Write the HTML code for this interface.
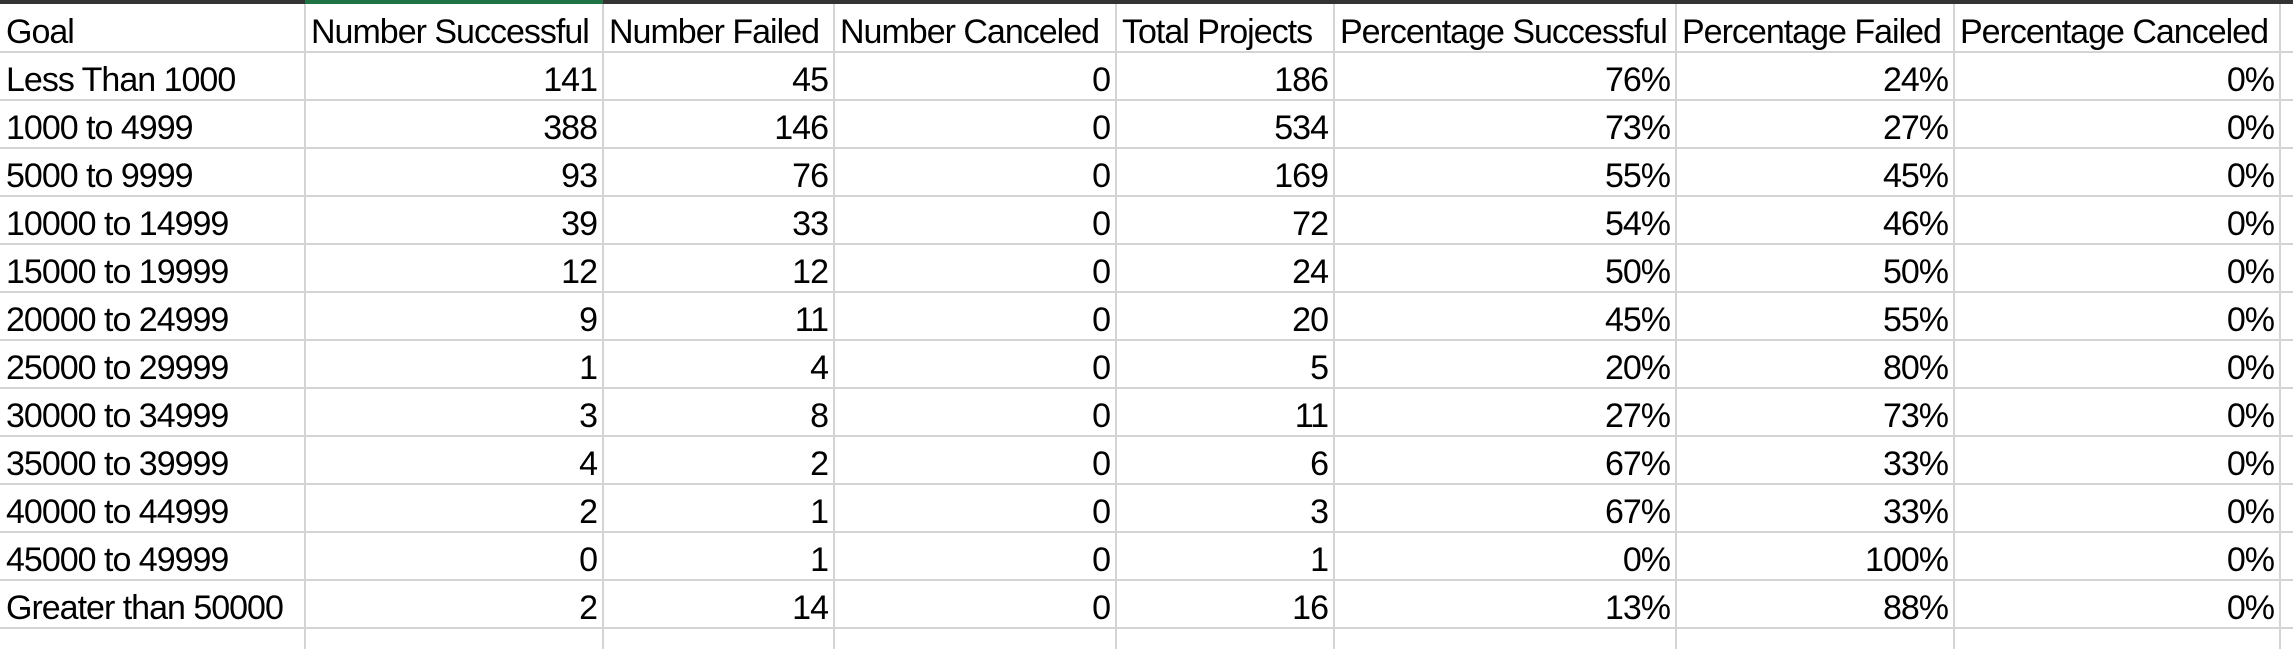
<!DOCTYPE html>
<html><head><meta charset="utf-8"><style>
body{margin:0;width:2293px;height:649px;background:#fff;overflow:hidden;position:relative;font-family:"Liberation Sans",sans-serif;}
.top{position:absolute;left:0;top:0;width:2293px;height:4px;background:#333;}
.green{position:absolute;left:305px;top:0;width:298px;height:4px;background:#217346;}
.hl{position:absolute;left:0;width:2293px;height:2px;background:#d4d4d4;}
.vl{position:absolute;top:4px;height:645px;width:2px;background:#d4d4d4;}
.c{position:absolute;height:48px;line-height:48px;font-size:34px;color:#000;white-space:nowrap;letter-spacing:-1px;box-sizing:border-box;padding:4px 6px 0 6px;overflow:visible;}
.r{text-align:right;}
</style></head><body>
<div class="top"></div>
<div class="green"></div>
<div id="grid"></div>
<script>
const headers=["Goal","Number Successful","Number Failed","Number Canceled","Total Projects","Percentage Successful","Percentage Failed","Percentage Canceled"];
const goals=["Less Than 1000","1000 to 4999","5000 to 9999","10000 to 14999","15000 to 19999","20000 to 24999","25000 to 29999","30000 to 34999","35000 to 39999","40000 to 44999","45000 to 49999","Greater than 50000"];
const successful=[141,388,93,39,12,9,1,3,4,2,0,2];
const failed=[45,146,76,33,12,11,4,8,2,1,1,14];
const canceled=[0,0,0,0,0,0,0,0,0,0,0,0];
const total=[186,534,169,72,24,20,5,11,6,3,1,16];
const pctSuccess=["76%","73%","55%","54%","50%","45%","20%","27%","67%","67%","0%","13%"];
const pctFailed=["24%","27%","45%","46%","50%","55%","80%","73%","33%","33%","100%","88%"];
const pctCanceled=["0%","0%","0%","0%","0%","0%","0%","0%","0%","0%","0%","0%"];
const edges=[0,305,603,834,1116,1334,1676,1954,2280];
const g=document.getElementById('grid');
for(let k=0;k<=12;k++){const d=document.createElement('div');d.className='hl';d.style.top=(51+48*k)+'px';


g.appendChild(d);}
for(let i=1;i<edges.length;i++){const d=document.createElement('div');d.className='vl';d.style.left=(edges[i]-1)+'px';


g.appendChild(d);}
function cell(text,row,col,right,name){const d=document.createElement('div');d.className='c'+(right?' r':'');
d.style.left=edges[col]+'px';d.style.width=(edges[col+1]-edges[col])+'px';d.style.top=(4+48*row)+'px';d.textContent=text;


g.appendChild(d);}
headers.forEach((h,i)=>cell(h,0,i,false,'header-cell'));
const cols=[successful,failed,canceled,total,pctSuccess,pctFailed,pctCanceled];
goals.forEach((gl,r)=>{cell(gl,r+1,0,false,'goal-cell');cols.forEach((arr,c)=>cell(String(arr[r]),r+1,c+1,true,'data-cell'));});
</script>
</body></html>
